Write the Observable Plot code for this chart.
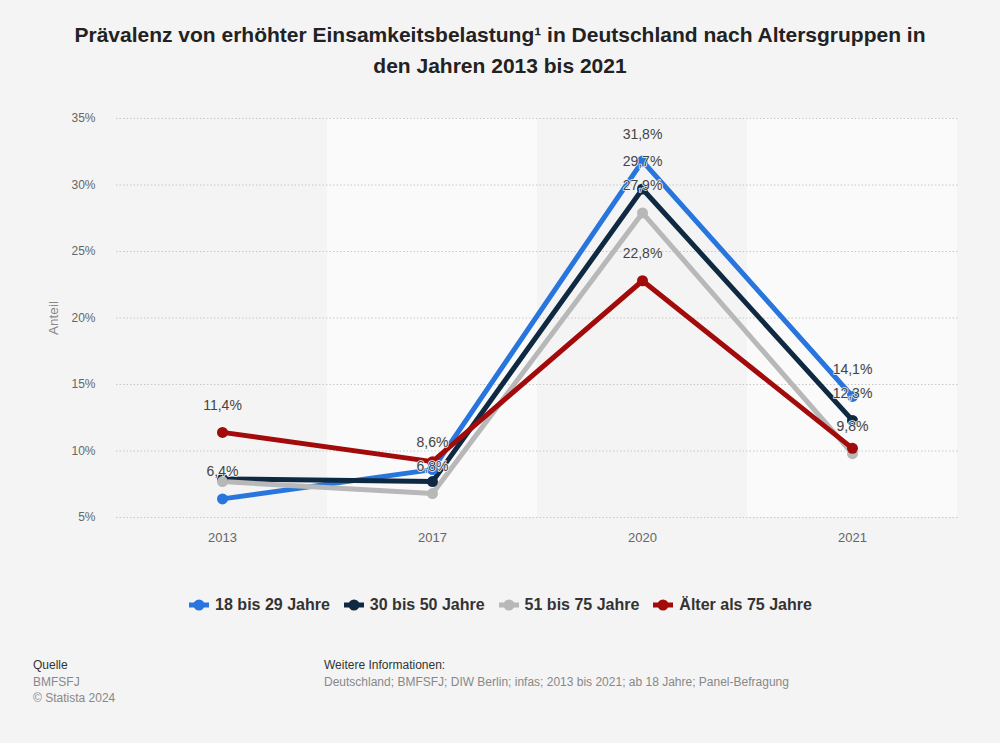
<!DOCTYPE html>
<html><head><meta charset="utf-8">
<script src="https://cdn.jsdelivr.net/npm/d3@7"></script>
<script src="https://cdn.jsdelivr.net/npm/@observablehq/plot@0.6"></script>
<style>
body{margin:0;background:#f4f4f4;font-family:"Liberation Sans",Arial,sans-serif;width:1000px;height:743px;position:relative;overflow:hidden}
#title{position:absolute;top:19px;left:0;width:1000px;text-align:center;font-weight:bold;font-size:21px;line-height:31px;color:#222}
#chart{position:absolute;top:100px;left:0}
#legend{position:absolute;top:596px;left:0;width:1000px;display:flex;justify-content:center;gap:13px;font-weight:bold;font-size:16px;color:#333}
#legend .item{display:flex;align-items:center;gap:5px}
.foot{position:absolute;font-size:12px;line-height:16.5px}
</style></head><body>
<div id="title">Prävalenz von erhöhter Einsamkeitsbelastung¹ in Deutschland nach Altersgruppen in<br>den Jahren 2013 bis 2021</div>
<div id="chart"></div>
<div id="legend"></div>
<div class="foot" style="left:33px;top:657px"><span style="color:#333">Quelle</span><br><span style="color:#888">BMFSFJ</span><br><span style="color:#888">© Statista 2024</span></div>
<div class="foot" style="left:324px;top:657px"><span style="color:#333">Weitere Informationen:</span><br><span style="color:#888">Deutschland; BMFSFJ; DIW Berlin; infas; 2013 bis 2021; ab 18 Jahre; Panel-Befragung</span></div>
<script>
const years = ["2013", "2017", "2020", "2021"];
const seriesNames = ["18 bis 29 Jahre", "30 bis 50 Jahre", "51 bis 75 Jahre", "Älter als 75 Jahre"];
const seriesColors = ["#2876dd", "#0f2942", "#b8b8b8", "#a30b0b"];
const values18to29 = [6.4, 8.6, 31.8, 14.1];
const values30to50 = [7.9, 7.7, 29.7, 12.3];
const values51to75 = [7.7, 6.8, 27.9, 9.8];
const valuesOver75 = [11.4, 9.2, 22.8, 10.2];
const labelShown18to29 = [true, true, true, true];
const labelShown30to50 = [false, false, true, true];
const labelShown51to75 = [false, true, true, true];
const labelShownOver75 = [true, false, true, false];
const yTicks = [5, 10, 15, 20, 25, 30, 35];
const shadedYears = ["2017", "2021"];

const allValues = [values18to29, values30to50, values51to75, valuesOver75];
const allShown = [labelShown18to29, labelShown30to50, labelShown51to75, labelShownOver75];
const data = [];
allValues.forEach((vals, si) => vals.forEach((v, i) => data.push({
  series: seriesNames[si], year: years[i], value: v, shown: allShown[si][i]
})));
const fmt = v => v.toFixed(1).replace(".", ",") + "%";

const chart = Plot.plot({
  width: 1000, height: 460,
  marginTop: 18, marginBottom: 43, marginLeft: 116, marginRight: 42,
  style: {background: "transparent", fontFamily: "Liberation Sans, Arial, sans-serif"},
  x: {type: "band", domain: years, padding: 0},
  y: {domain: [5, 35]},
  color: {domain: seriesNames, range: seriesColors},
  marks: [
    Plot.barY(shadedYears, {x: d => d, y1: 5, y2: 35, fill: "#fafafa"}),
    Plot.gridY(yTicks, {stroke: "#c8c8c8", strokeOpacity: 1, strokeDasharray: "1.5,2"}),
    Plot.axisY(yTicks, {tickSize: 0, tickPadding: 21, tickFormat: d => d + "%", fill: "#666", fontSize: 12, label: null}),
    Plot.axisY({label: "Anteil", labelAnchor: "center", labelOffset: 68, labelArrow: "none",
      ticks: [], tickSize: 0, fill: "#888", fontSize: 13.5}),
    Plot.axisX(years, {tickSize: 0, tickPadding: 15, fill: "#666", fontSize: 13, label: null}),
    Plot.line(data, {x: "year", y: "value", z: "series", stroke: "series", strokeWidth: 5}),
    Plot.dot(data, {x: "year", y: "value", fill: "series", r: 5.5}),
    Plot.text(data.filter(d => d.shown), {x: "year", y: "value", text: d => fmt(d.value), dy: -27,
      fill: "#444", fontSize: 14, stroke: "#f4f4f4", strokeWidth: 1.5})
  ]
});
document.getElementById("chart").appendChild(chart);

const legend = document.getElementById("legend");
seriesNames.forEach((n, i) => {
  const item = document.createElement("div");
  item.className = "item";
  item.innerHTML = `<svg width="22" height="12"><line x1="1" x2="21" y1="6" y2="6" stroke="${seriesColors[i]}" stroke-width="5"/><circle cx="11" cy="6" r="5.5" fill="${seriesColors[i]}"/></svg><span>${n}</span>`;
  legend.appendChild(item);
});
</script>
</body></html>
